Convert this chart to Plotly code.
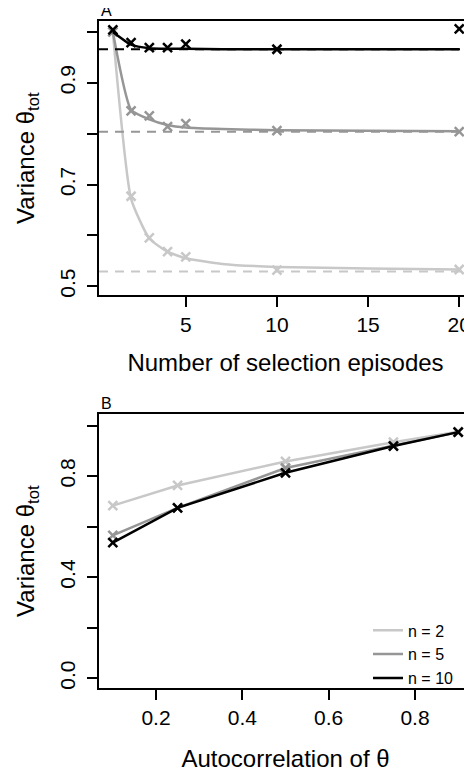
import plotly.graph_objects as go
from plotly.subplots import make_subplots

# ---- Panel A data ----
episodes = [1, 2, 3, 4, 5, 10, 20]
simA_light = [1.000, 0.677, 0.595, 0.568, 0.558, 0.532, 0.533]
simA_grey = [1.000, 0.845, 0.835, 0.814, 0.820, 0.806, 0.804]
simA_black = [1.004, 0.979, 0.969, 0.969, 0.976, 0.966, 1.006]

fit_x = [1, 2, 3, 4, 5, 7, 10, 15, 20]
fitA_light = [1.0, 0.672, 0.594, 0.568, 0.555, 0.544, 0.538, 0.535, 0.533]
fitA_grey = [1.0, 0.847, 0.828, 0.817, 0.812, 0.809, 0.807, 0.806, 0.805]
fitA_black = [1.0, 0.975, 0.968, 0.967, 0.967, 0.966, 0.966, 0.966, 0.966]
asymA = [0.529, 0.804, 0.966]

# ---- Panel B data ----
autocorr = [0.1, 0.25, 0.5, 0.75, 0.9]
varB_n2 = [0.683, 0.763, 0.858, 0.934, 0.976]
varB_n5 = [0.565, 0.674, 0.832, 0.921, 0.974]
varB_n10 = [0.537, 0.674, 0.813, 0.919, 0.974]
legend_labels = ["n = 2", "n = 5", "n = 10"]

colors = ["#c8c8c8", "#969696", "#000000"]
FONT = "Liberation Sans, Arial, sans-serif"
W, H = 464, 764  # page body adds an 8px margin

fig = make_subplots(rows=2, cols=1)

# Panel A
for fit, sim, c in zip([fitA_light, fitA_grey, fitA_black],
                       [simA_light, simA_grey, simA_black], colors):
    fig.add_trace(go.Scatter(x=fit_x, y=fit, mode="lines",
                             line=dict(color=c, width=2.5, shape="spline", smoothing=0.5),
                             showlegend=False, hoverinfo="skip"), row=1, col=1)
    fig.add_trace(go.Scatter(x=episodes, y=sim, mode="markers",
                             marker=dict(symbol="x-thin", size=9, line=dict(color=c, width=2.5)),
                             showlegend=False), row=1, col=1)
for asym, c in zip(asymA, colors):
    fig.add_hline(y=asym, line=dict(color=c, width=2, dash="9px,7px"), row=1, col=1)

# Panel B
for vals, c, lab in zip([varB_n2, varB_n5, varB_n10], colors, legend_labels):
    fig.add_trace(go.Scatter(x=autocorr, y=vals, mode="lines", line=dict(color=c, width=2.5),
                             name=lab, showlegend=True), row=2, col=1)
    fig.add_trace(go.Scatter(x=autocorr, y=vals, mode="markers",
                             marker=dict(symbol="x-thin", size=9, line=dict(color=c, width=2.5)),
                             showlegend=False), row=2, col=1)

axis_common = dict(showgrid=False, zeroline=False, showline=True, linecolor="black", linewidth=2,
                   ticks="outside", ticklen=10, tickwidth=1.5, tickcolor="black",
                   tickfont=dict(family=FONT, size=21, color="black"))
minor_common = dict(ticks="outside", ticklen=10, tickwidth=1.5, tickcolor="black", showgrid=False)

x0 = 91 / W
x1 = 1.0
fig.update_layout(
    width=W, height=H, margin=dict(l=0, r=0, t=0, b=0),
    paper_bgcolor="white", plot_bgcolor="white",
    font=dict(family=FONT, color="black"),
    xaxis=dict(domain=[x0, x1], range=[0.24, 20.7], tickvals=[5, 10, 15, 20], mirror=True,
               title=dict(text="Number of selection episodes", font=dict(size=24), standoff=19), **axis_common),
    yaxis=dict(domain=[1 - 288 / H, 1 - 13 / H], range=[0.4824, 1.0216], mirror=False,
               tick0=0.5, dtick=0.2, tickformat=".1f", tickangle=-90, ticklabelstandoff=4,
               minor=dict(tick0=0.5, dtick=0.1, **minor_common),
               title=dict(text="Variance θ<sub>tot</sub>", font=dict(size=24), standoff=14), **axis_common),
    xaxis2=dict(domain=[x0, x1], range=[0.068, 0.932], tickvals=[0.2, 0.4, 0.6, 0.8], mirror=True,
                title=dict(text="Autocorrelation of θ", font=dict(size=24), standoff=22), **axis_common),
    yaxis2=dict(domain=[1 - 682 / H, 1 - 407 / H], range=[-0.0395, 1.046], mirror=False,
                tick0=0, dtick=0.4, tickformat=".1f", tickangle=-90, ticklabelstandoff=4,
                minor=dict(tick0=0, dtick=0.2, **minor_common),
                title=dict(text="Variance θ<sub>tot</sub>", font=dict(size=24), standoff=14), **axis_common),
    legend=dict(x=360 / W, y=1 - 607 / H, xanchor="left", yanchor="top", bgcolor="rgba(0,0,0,0)",
                font=dict(family=FONT, size=16, color="black"), tracegroupgap=0, itemwidth=30),
    annotations=[
        dict(text="A", x=x0, y=1 - 13 / H, xref="paper", yref="paper", xanchor="left", yanchor="bottom",
             showarrow=False, font=dict(size=16, family=FONT, color="black")),
        dict(text="B", x=x0, y=1 - 407 / H, xref="paper", yref="paper", xanchor="left", yanchor="bottom",
             showarrow=False, font=dict(size=16, family=FONT, color="black")),
    ],
)

fig.write_html("out.html")
